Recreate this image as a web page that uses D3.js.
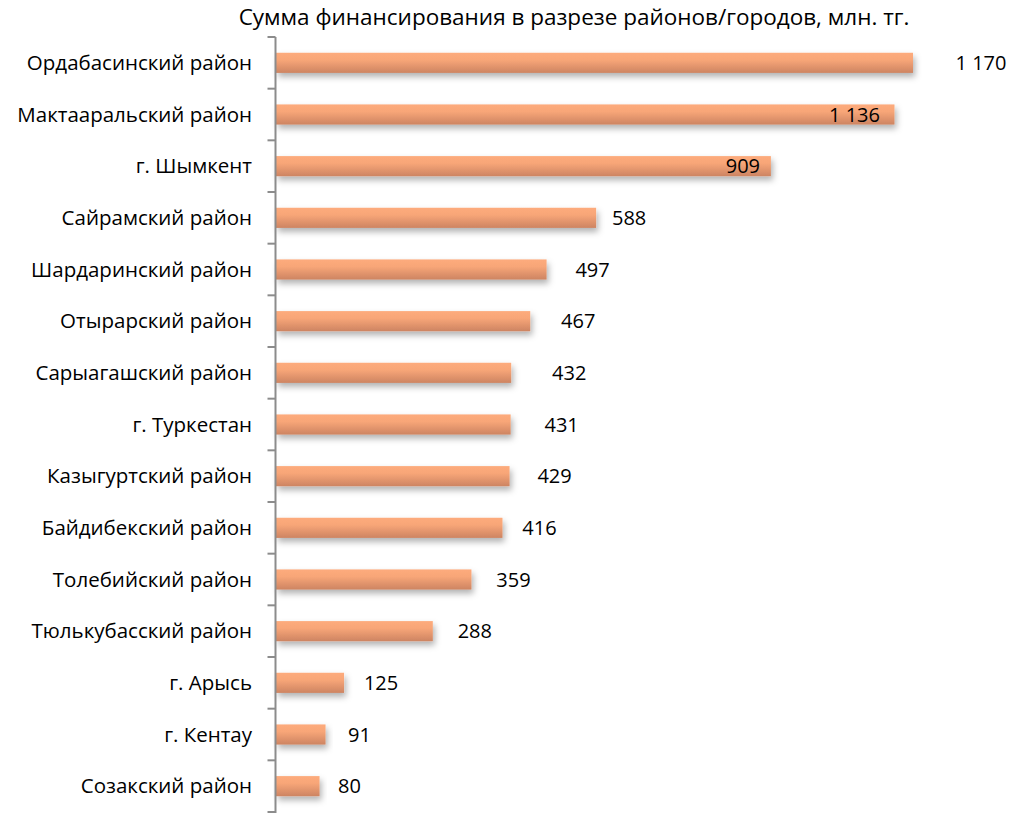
<!DOCTYPE html>
<html>
<head>
<meta charset="utf-8">
<script src="https://cdn.jsdelivr.net/npm/d3@7"></script>
<style>
  body { margin: 0; background: #fff; }
  text { font-family: "Open Sans", "Noto Sans", sans-serif; fill: #000; }
</style>
</head>
<body>
<div id="main"></div>
<script>
// data
var districts = [
    "Ордабасинский район", "Мактааральский район", "г. Шымкент", "Сайрамский район",
    "Шардаринский район", "Отырарский район", "Сарыагашский район", "г. Туркестан",
    "Казыгуртский район", "Байдибекский район", "Толебийский район", "Тюлькубасский район",
    "г. Арысь", "г. Кентау", "Созакский район"
];
var funding = [1170, 1136, 909, 588, 497, 467, 432, 431, 429, 416, 359, 288, 125, 91, 80];
var valueLabels = ["1 170", "1 136", "909", "588", "497", "467", "432", "431", "429", "416", "359", "288", "125", "91", "80"];
var chartTitle = "Сумма финансирования в разрезе районов/городов, млн. тг.";

// label offsets from bar end (centre of text), as placed in the original
var labelShift = [68, -40, -28, 33, 46, 48, 58, 51, 45, 37, 42, 42, 37, 34, 30];

var width = 1022, height = 813;
var margin = {top: 37, right: 0, bottom: 1, left: 276};

var svg = d3.select('#main')
    .append('svg')
    .attr("width", width)
    .attr("height", height);

var defs = svg.append("defs");
var grad = defs.append("linearGradient")
    .attr("id", "barGrad")
    .attr("x1", 0).attr("y1", 0).attr("x2", 0).attr("y2", 1);
grad.append("stop").attr("offset", "0%").attr("stop-color", "#fdab7c");
grad.append("stop").attr("offset", "35%").attr("stop-color", "#f8a678");
grad.append("stop").attr("offset", "100%").attr("stop-color", "#cd8462");

var shadow = defs.append("filter")
    .attr("id", "shadow")
    .attr("x", "-5%").attr("y", "-30%")
    .attr("width", "120%").attr("height", "190%");
shadow.append("feDropShadow")
    .attr("dx", 2).attr("dy", 4)
    .attr("stdDeviation", 3)
    .attr("flood-color", "#000")
    .attr("flood-opacity", 0.3);

var x = d3.scaleLinear()
    .domain([0, 1170])
    .range([margin.left, 913]);

var y = d3.scaleBand()
    .domain(districts)
    .range([margin.top, height - margin.bottom])
    .paddingInner(0.61)
    .paddingOuter(0.305);

// title
svg.append("text")
    .attr("x", 574)
    .attr("y", 25)
    .attr("text-anchor", "middle")
    .style("font-size", "22.5px")
    .text(chartTitle);

// bars
svg.selectAll(".bar")
    .data(funding)
    .enter().append("rect")
    .attr("class", "bar")
    .attr("x", x(0))
    .attr("y", function(d, i) { return y(districts[i]); })
    .attr("width", function(d) { return x(d) - x(0); })
    .attr("height", y.bandwidth())
    .attr("fill", "url(#barGrad)")
    .attr("filter", "url(#shadow)");

// axis line + ticks at band boundaries
var axisX = margin.left - 0.5;
var step = y.step();
var axisG = svg.append("g").attr("class", "axis");
axisG.append("line")
    .attr("x1", axisX).attr("x2", axisX)
    .attr("y1", margin.top).attr("y2", height)
    .attr("stroke", "#8c8c8c").attr("stroke-width", 2);
axisG.selectAll(".tick")
    .data(d3.range(districts.length + 1))
    .enter().append("line")
    .attr("x1", axisX - 8).attr("x2", axisX)
    .attr("y1", function(i) { return margin.top + i * step; })
    .attr("y2", function(i) { return margin.top + i * step; })
    .attr("stroke", "#8c8c8c").attr("stroke-width", 2);

// category labels
svg.selectAll(".cat")
    .data(districts)
    .enter().append("text")
    .attr("class", "cat")
    .attr("x", 252)
    .attr("y", function(d) { return y(d) + y.bandwidth() / 2; })
    .attr("dy", "0.35em")
    .attr("text-anchor", "end")
    .style("font-size", "20.5px")
    .text(function(d) { return d; });

// value labels
svg.selectAll(".val")
    .data(funding)
    .enter().append("text")
    .attr("class", "val")
    .attr("x", function(d, i) { return x(d) + labelShift[i]; })
    .attr("y", function(d, i) { return y(districts[i]) + y.bandwidth() / 2; })
    .attr("dy", "0.35em")
    .attr("text-anchor", "middle")
    .style("font-size", "20px")
    .text(function(d, i) { return valueLabels[i]; });
</script>
</body>
</html>
